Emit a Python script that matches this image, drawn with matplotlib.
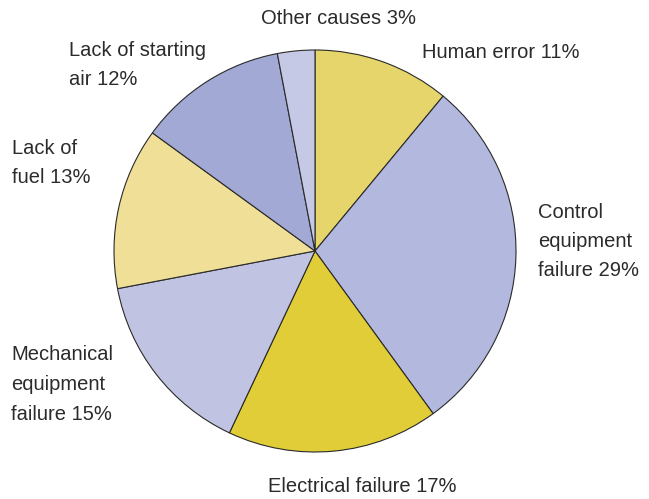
"""Causes of generator start failures - pie chart."""

import matplotlib.pyplot as plt

causes = ['Human error', 'Control\nequipment\nfailure', 'Electrical failure',
          'Mechanical\nequipment\nfailure', 'Lack of\nfuel',
          'Lack of starting\nair', 'Other causes']
shares = [11, 29, 17, 15, 13, 12, 3]
colors = ['#e6d56a', '#b3b8de', '#e0cd37', '#c1c3e2', '#f0df96',
          '#a2a9d4', '#c6c9e5']

# label anchor (left x, first line y) in pixels from top-left
label_pos = [(422, 52), (538, 212), (268, 487), (11, 355), (12, 148),
             (69, 50), (261, 18)]


def main():
    """Draw the pie."""
    fig = plt.figure(figsize=(6.49, 4.99), dpi=100)
    ax = fig.add_axes([0, 0, 1, 1])
    ax.set_xlim(0, 649)
    ax.set_ylim(0, 499)
    ax.set_aspect('equal')
    ax.axis('off')

    ax.pie(shares, colors=colors, startangle=90, counterclock=False,
           center=(315, 499 - 251), radius=201,
           wedgeprops={'edgecolor': '#2a2a2a', 'linewidth': 0.8})
    ax.set_xlim(0, 649)
    ax.set_ylim(0, 499)

    for name, val, (x, y) in zip(causes, shares, label_pos):
        lines = (name + ' %d%%' % val).split('\n')
        for i, line in enumerate(lines):
            ax.text(x, 499 - (y + i * 29.5), line, ha='left', va='center',
                    fontsize=14.5, color='#2b2b2b',
                    family='Liberation Sans')

    plt.savefig('out.png', dpi=100)


if __name__ == "__main__":
    main()
